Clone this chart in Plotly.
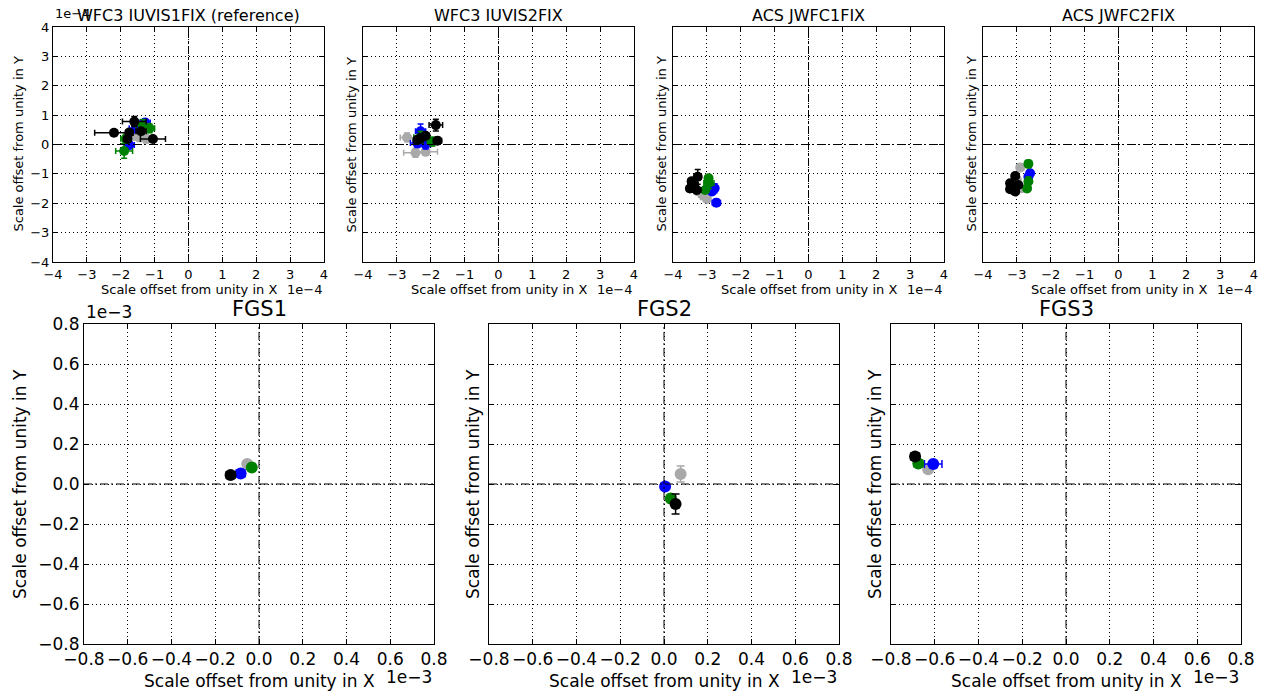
import plotly.graph_objects as go

W, H = 1270, 692
FONT = "DejaVu Sans"

# ---------------- data (values in displayed units: top row x1e-4, bottom row x1e-3)
# each point: (x, y, xerr, yerr)
UVIS1_GRAY = [(-1.45, 0.25, 0.15, 0.15), (-1.60, 0.35, 0.20, 0.20), (-1.25, 0.20, 0.15, 0.15)]
UVIS1_BLUE = [(-1.28, 0.75, 0.15, 0.12), (-1.75, -0.02, 0.15, 0.12), (-1.55, 0.55, 0.20, 0.15)]
UVIS1_GREEN = [(-1.90, -0.22, 0.25, 0.25), (-1.35, 0.65, 0.20, 0.20), (-1.15, 0.55, 0.15, 0.15), (-1.85, 0.20, 0.15, 0.15)]
UVIS1_BLACK = [(-1.60, 0.78, 0.35, 0.17), (-2.20, 0.40, 0.57, 0.10), (-1.75, 0.41, 0.10, 0.10),
               (-1.40, 0.45, 0.15, 0.10), (-1.80, 0.19, 0.10, 0.10), (-1.05, 0.19, 0.37, 0.08)]

UVIS2_GRAY = [(-2.70, 0.24, 0.20, 0.15), (-2.45, -0.28, 0.35, 0.15), (-2.15, -0.25, 0.35, 0.12)]
UVIS2_BLUE = [(-2.30, 0.45, 0.15, 0.25), (-2.40, 0.05, 0.20, 0.15), (-2.15, 0.00, 0.15, 0.15)]
UVIS2_GREEN = [(-1.95, 0.10, 0.15, 0.15), (-2.30, 0.25, 0.20, 0.20)]
UVIS2_BLACK = [(-1.85, 0.66, 0.20, 0.20), (-2.30, 0.21, 0.15, 0.15), (-2.15, 0.30, 0.10, 0.10),
               (-1.80, 0.13, 0.12, 0.12), (-2.40, 0.15, 0.10, 0.10)]

WFC1_GRAY = [(-3.12, -1.72, 0.12, 0.15), (-3.25, -1.60, 0.12, 0.12), (-3.00, -1.85, 0.10, 0.10)]
WFC1_BLUE = [(-2.72, -1.98, 0.12, 0.12), (-2.77, -1.49, 0.10, 0.15), (-2.85, -1.60, 0.10, 0.10)]
WFC1_GREEN = [(-2.94, -1.31, 0.15, 0.20), (-2.95, -1.15, 0.10, 0.12), (-3.05, -1.55, 0.10, 0.10)]
WFC1_BLACK = [(-3.41, -1.38, 0.15, 0.15), (-3.27, -1.10, 0.10, 0.25), (-3.50, -1.50, 0.10, 0.10),
              (-3.30, -1.55, 0.12, 0.12), (-3.45, -1.25, 0.10, 0.10)]

WFC2_GRAY = [(-2.90, -0.78, 0.10, 0.10), (-2.86, -1.49, 0.10, 0.10), (-3.00, -1.20, 0.10, 0.10)]
WFC2_BLUE = [(-2.61, -0.98, 0.06, 0.12), (-2.66, -1.10, 0.06, 0.10)]
WFC2_GREEN = [(-2.66, -0.66, 0.08, 0.12), (-2.66, -1.26, 0.08, 0.15), (-2.70, -1.50, 0.06, 0.10)]
WFC2_BLACK = [(-3.05, -1.07, 0.10, 0.10), (-3.20, -1.32, 0.10, 0.10), (-2.96, -1.38, 0.10, 0.10),
              (-3.20, -1.52, 0.10, 0.10), (-3.05, -1.60, 0.10, 0.10)]

FGS1_GRAY = [(-0.054, 0.100, 0.010, 0.010)]
FGS1_BLUE = [(-0.084, 0.053, 0.020, 0.010)]
FGS1_GREEN = [(-0.033, 0.083, 0.015, 0.010)]
FGS1_BLACK = [(-0.130, 0.045, 0.020, 0.010)]

FGS2_GRAY = [(0.076, 0.050, 0.010, 0.040)]
FGS2_BLUE = [(0.005, -0.013, 0.010, 0.010)]
FGS2_GREEN = [(0.031, -0.072, 0.010, 0.020)]
FGS2_BLACK = [(0.053, -0.100, 0.010, 0.050)]

FGS3_GRAY = [(-0.630, 0.074, 0.010, 0.010)]
FGS3_BLUE = [(-0.607, 0.100, 0.040, 0.010)]
FGS3_GREEN = [(-0.675, 0.103, 0.020, 0.010)]
FGS3_BLACK = [(-0.690, 0.137, 0.020, 0.010)]

TITLES = ["WFC3 IUVIS1FIX (reference)", "WFC3 IUVIS2FIX", "ACS JWFC1FIX", "ACS JWFC2FIX",
          "FGS1", "FGS2", "FGS3"]
TOP_TICKS = [-4, -3, -2, -1, 0, 1, 2, 3, 4]
BOTTOM_TICKS = [-0.8, -0.6, -0.4, -0.2, 0.0, 0.2, 0.4, 0.6, 0.8]
X_LABEL = "Scale offset from unity in X"
Y_LABEL = "Scale offset from unity in Y"

PANEL_DATA = [
    {"gray": UVIS1_GRAY, "blue": UVIS1_BLUE, "green": UVIS1_GREEN, "black": UVIS1_BLACK},
    {"gray": UVIS2_GRAY, "blue": UVIS2_BLUE, "green": UVIS2_GREEN, "black": UVIS2_BLACK},
    {"gray": WFC1_GRAY, "blue": WFC1_BLUE, "green": WFC1_GREEN, "black": WFC1_BLACK},
    {"gray": WFC2_GRAY, "blue": WFC2_BLUE, "green": WFC2_GREEN, "black": WFC2_BLACK},
    {"gray": FGS1_GRAY, "blue": FGS1_BLUE, "green": FGS1_GREEN, "black": FGS1_BLACK},
    {"gray": FGS2_GRAY, "blue": FGS2_BLUE, "green": FGS2_GREEN, "black": FGS2_BLACK},
    {"gray": FGS3_GRAY, "blue": FGS3_BLUE, "green": FGS3_GREEN, "black": FGS3_BLACK},
]

# ---------------- styles / layout
COLORS = {"gray": "#a9a9a9", "blue": "#0000ff", "green": "#008000", "black": "#000000"}
ORDER = ["gray", "blue", "green", "black"]

# panel frames in pixels: (left, right, top, bottom)
FRAMES = [(53, 324, 27, 262), (363, 634, 27, 262), (673, 944, 27, 262), (983, 1254, 27, 262),
          (84, 434, 324, 644), (489, 839, 324, 644), (891, 1241, 324, 644)]


def px(x):
    return x / W


def py(y):
    return 1 - y / H


fig = go.Figure()
layout = dict(template="none", width=W, height=H, autosize=False,
              margin=dict(l=0, r=0, t=0, b=0, pad=0),
              paper_bgcolor="white", plot_bgcolor="white", showlegend=False,
              font=dict(family=FONT, color="black"))
annotations = []
shapes = []

for i, (frame, data) in enumerate(zip(FRAMES, PANEL_DATA)):
    top_row = i < 4
    n = i + 1
    xa = "xaxis" if n == 1 else f"xaxis{n}"
    ya = "yaxis" if n == 1 else f"yaxis{n}"
    xr = "x" if n == 1 else f"x{n}"
    yr = "y" if n == 1 else f"y{n}"
    l, r, t, b = frame
    ticks = TOP_TICKS if top_row else BOTTOM_TICKS
    rng = [-4, 4] if top_row else [-0.8, 0.8]
    tfs = 13 if top_row else 17
    msize = 10 if top_row else 12
    capw = 3 if top_row else 4
    first = i in (0, 4)

    for key in ORDER:
        pts = data[key]
        fig.add_trace(go.Scatter(
            x=[p[0] for p in pts], y=[p[1] for p in pts],
            error_x=dict(type="data", array=[p[2] for p in pts], color=COLORS[key],
                         thickness=1.5, width=capw),
            error_y=dict(type="data", array=[p[3] for p in pts], color=COLORS[key],
                         thickness=1.5, width=capw),
            mode="markers", marker=dict(color=COLORS[key], size=msize, line=dict(width=0)),
            xaxis=xr, yaxis=yr, hoverinfo="skip"))

    common = dict(range=rng, tickvals=ticks, showgrid=True, gridcolor="black", griddash="1px,3px",
                  gridwidth=1, zeroline=False, showline=True, linecolor="black", linewidth=1,
                  mirror="allticks", ticks="inside", ticklen=5, tickcolor="black", tickangle=0,
                  automargin=False,
                  tickfont=dict(size=tfs, family=FONT, color="black"), fixedrange=True)
    if not top_row:
        common["tickformat"] = ".1f"
    layout[xa] = dict(common, domain=[px(l), px(r)], anchor=yr)
    layout[ya] = dict(common, domain=[py(b), py(t)], anchor=xr, showticklabels=first)

    # zero lines (dash-dot)
    shapes.append(dict(type="line", xref=xr, yref=f"{yr} domain", x0=0, x1=0, y0=0, y1=1,
                       line=dict(color="black", width=1, dash="8px,3px,2px,3px"), layer="above"))
    shapes.append(dict(type="line", xref=f"{xr} domain", yref=yr, x0=0, x1=1, y0=0, y1=0,
                       line=dict(color="black", width=1, dash="8px,3px,2px,3px"), layer="above"))

    cx = (l + r) / 2
    cy = (t + b) / 2
    if top_row:
        annotations.append(dict(text=TITLES[i], x=px(cx), y=py(15), xref="paper", yref="paper",
                                showarrow=False, font=dict(size=16), xanchor="center", yanchor="middle"))
        annotations.append(dict(text=X_LABEL, x=px(cx), y=py(290), xref="paper", yref="paper",
                                showarrow=False, font=dict(size=13), xanchor="center", yanchor="middle"))
        annotations.append(dict(text="1e\u22124", x=px(r), y=py(289), xref="paper", yref="paper",
                                showarrow=False, font=dict(size=13), xanchor="right", yanchor="middle"))
        yx = 18 if first else l - 12
        annotations.append(dict(text=Y_LABEL, x=px(yx), y=py(cy), xref="paper", yref="paper",
                                showarrow=False, font=dict(size=13), textangle=-90,
                                xanchor="center", yanchor="middle"))
        if first:
            annotations.append(dict(text="1e\u22124", x=px(l), y=py(14), xref="paper", yref="paper",
                                    showarrow=False, font=dict(size=13), xanchor="left", yanchor="middle"))
    else:
        annotations.append(dict(text=TITLES[i], x=px(cx), y=py(309), xref="paper", yref="paper",
                                showarrow=False, font=dict(size=21), xanchor="center", yanchor="middle"))
        annotations.append(dict(text=X_LABEL, x=px(cx), y=py(681), xref="paper", yref="paper",
                                showarrow=False, font=dict(size=17), xanchor="center", yanchor="middle"))
        annotations.append(dict(text="1e\u22123", x=px(r), y=py(677), xref="paper", yref="paper",
                                showarrow=False, font=dict(size=17), xanchor="right", yanchor="middle"))
        yx = 20 if first else l - 16
        annotations.append(dict(text=Y_LABEL, x=px(yx), y=py(cy), xref="paper", yref="paper",
                                showarrow=False, font=dict(size=17), textangle=-90,
                                xanchor="center", yanchor="middle"))
        if first:
            annotations.append(dict(text="1e\u22123", x=px(l), y=py(312), xref="paper", yref="paper",
                                    showarrow=False, font=dict(size=17), xanchor="left", yanchor="middle"))

layout["annotations"] = annotations
layout["shapes"] = shapes
fig.update_layout(**layout)
fig.write_html("out.html")
